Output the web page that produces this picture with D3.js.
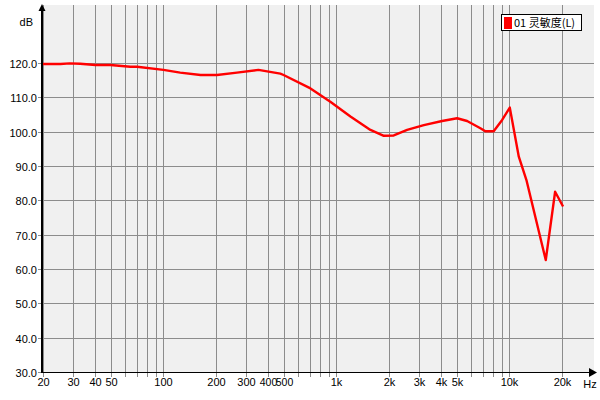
<!DOCTYPE html>
<html><head><meta charset="utf-8">
<script src="https://cdn.jsdelivr.net/npm/d3@7"></script>
<style>body{margin:0;background:#fff}svg text{font-family:"Liberation Sans",Arial,sans-serif;font-size:11px;fill:#000}</style>
</head><body><svg id="c" width="600" height="400"></svg>
<script>
const freqs = [20,25.4,28.7,33,40.5,49.4,64.4,70.4,100,125,164,204,266,354,474,495,708,922,1205,1573,1879,2145,2563,3200,4083,4985,5693,6795,7261,8110,9078,10050,11330,12540,16220,18370,20420];
const spl   = [119.7,119.7,119.9,119.8,119.4,119.4,118.9,118.9,118.0,117.2,116.5,116.5,117.2,118.0,116.9,116.5,112.6,108.7,104.4,100.5,98.8,98.9,100.5,101.9,103.1,103.9,103.1,101.0,100.1,100.1,103.4,107.0,92.7,85.9,62.6,82.5,78.2];
const yTicks = [30,40,50,60,70,80,90,100,110,120];
const xLabels = [20,30,40,50,100,200,300,400,500,1000,2000,3000,4000,5000,10000,20000];
const seriesName = "01 灵敏度(L)";

const svg = d3.select("#c");
const L = 43, R = 594, T = 5, B = 372;
const x = d3.scaleLog().domain([20, 20000]).range([42.5, 561.5]);
const y = d3.scaleLinear().domain([30, 120]).range([372, 63]);

svg.append("rect").attr("x", L).attr("y", T).attr("width", R - L).attr("height", B - T).attr("fill", "#f0f0f0");

const gridF = [];
for (let d = 10; d <= 10000; d *= 10) for (let m = 1; m <= 9; m++) { const f = d * m; if (f >= 20 && f <= 20000) gridF.push(f); }
gridF.push(20000);
const g = svg.append("g");
gridF.forEach(f => {
  const xx = Math.round(x(f)) + 0.5;
  g.append("line").attr("x1", xx).attr("x2", xx).attr("y1", T).attr("y2", B + 5).attr("stroke", "#8c8c8c").attr("stroke-width", 1);
});
yTicks.forEach(v => {
  const yy = Math.round(y(v)) + 0.5;
  g.append("line").attr("x1", 38).attr("x2", R).attr("y1", yy).attr("y2", yy).attr("stroke", "#8c8c8c").attr("stroke-width", 1);
  g.append("text").attr("x", 37).attr("y", yy + 4).attr("text-anchor", "end").text(v.toFixed(1));
});
xLabels.forEach(f => {
  const xx = Math.round(x(f)) + 0.5;
  const lab = f >= 1000 ? (f / 1000) + "k" : String(f);
  svg.append("text").attr("x", xx).attr("y", 386).attr("text-anchor", "middle").style("font-size", f === 400 || f === 500 ? "10.5px" : null).text(lab);
});

const line = d3.line().x((d, i) => x(freqs[i])).y(d => y(d));
svg.append("path").datum(spl).attr("d", line).attr("fill", "none").attr("stroke", "#ff0000").attr("stroke-width", 2.4).attr("stroke-linejoin", "round");

svg.append("line").attr("x1", 42).attr("x2", 42).attr("y1", 9).attr("y2", 373).attr("stroke", "#000").attr("stroke-width", 2);
svg.append("path").attr("d", "M42,4 L38.5,11 L45.5,11 Z").attr("fill", "#000");
svg.append("line").attr("x1", 42).attr("x2", 590).attr("y1", 372.5).attr("y2", 372.5).attr("stroke", "#000").attr("stroke-width", 1);
svg.append("path").attr("d", "M597,372.5 L589,368 L589,377 Z").attr("fill", "#000");
svg.append("text").attr("x", 33).attr("y", 26).attr("text-anchor", "end").text("dB");
svg.append("text").attr("x", 590).attr("y", 388).attr("text-anchor", "middle").text("Hz");

const lg = svg.append("g");
lg.append("rect").attr("x", 501.5).attr("y", 14.5).attr("width", 80).attr("height", 16).attr("fill", "#fff").attr("stroke", "#000");
lg.append("rect").attr("x", 504).attr("y", 17).attr("width", 8).attr("height", 12).attr("fill", "#ff0000");
lg.append("text").attr("x", 514).attr("y", 27).style("font-family", "'Noto Sans CJK SC',sans-serif").style("font-size", "11px").text(seriesName);
</script></body></html>
